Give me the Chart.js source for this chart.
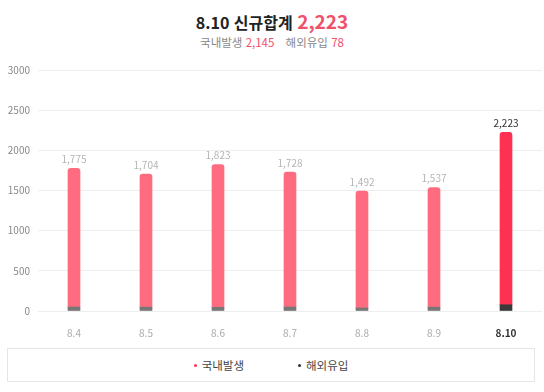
<!DOCTYPE html>
<html lang="ko">
<head>
<meta charset="utf-8">
<script src="https://cdn.jsdelivr.net/npm/chart.js@4"></script>
<style>
    body { margin: 0; width: 544px; height: 392px; background: #fff; font-family: "Noto Sans CJK KR", "Noto Sans", sans-serif; position: relative; overflow: hidden; }
    .title { position: absolute; top: 7px; left: 0; width: 544px; text-align: center; font-weight: bold; font-size: 16px; color: #222; }
    .title .total { color: #f0506a; font-size: 19px; }
    .sub { position: absolute; top: 34px; left: 0; width: 544px; text-align: center; font-size: 11.5px; color: #888; }
    .sub .num { color: #f0506a; margin-right: 8px; }
    .chart-wrap { position: absolute; left: 0; top: 56px; width: 544px; height: 284px; }
    .legend { position: absolute; left: 7px; top: 348px; width: 526px; height: 32px; border: 1px solid #e6e6e6; display: flex; justify-content: center; align-items: center; font-size: 11.5px; color: #444; }
    .legend span.item { margin: 0 27px; display: flex; align-items: center; }
    .legend i { display: inline-block; width: 3px; height: 3px; border-radius: 50%; margin-right: 5px; }
</style>
</head>
<body>
<div class="title">8.10 신규합계 <span class="total">2,223</span></div>
<div class="sub">국내발생 <span class="num">2,145</span> 해외유입 <span class="num" style="margin-right:0">78</span></div>
<div class="chart-wrap"><canvas id="chart"></canvas></div>
<div class="legend" id="legend"></div>
<script>
const labels = ['8.4', '8.5', '8.6', '8.7', '8.8', '8.9', '8.10'];
const totals = [1775, 1704, 1823, 1728, 1492, 1537, 2223];
const imported = [50, 48, 47, 50, 38, 48, 78];
const domestic = totals.map((t, i) => t - imported[i]);
const yTicks = [0, 500, 1000, 1500, 2000, 2500, 3000];

const last = labels.length - 1;
const domColors = labels.map((l, i) => i === last ? '#ff3152' : '#ff6c80');
const impColors = labels.map((l, i) => i === last ? '#3a3a3a' : '#777777');

const totalLabels = {
    id: 'totalLabels',
    afterDatasetsDraw(chart) {
        const ctx = chart.ctx;
        const meta = chart.getDatasetMeta(1);
        ctx.save();
        ctx.font = '10px "Noto Sans CJK KR", sans-serif';
        ctx.textAlign = 'center';
        ctx.textBaseline = 'bottom';
        meta.data.forEach((bar, i) => {
            ctx.fillStyle = i === last ? '#333' : '#b5b5b5';
            ctx.fillText(totals[i].toLocaleString('en-US'), bar.x, bar.y - 4);
        });
        ctx.restore();
    }
};

const chart = new Chart(document.getElementById('chart'), {
    type: 'bar',
    data: {
        labels: labels,
        datasets: [
            {
                label: '해외유입',
                data: imported,
                backgroundColor: impColors,
                barThickness: 12,
                borderRadius: 0
            },
            {
                label: '국내발생',
                data: domestic,
                backgroundColor: domColors,
                barThickness: 12,
                borderRadius: { topLeft: 3, topRight: 3, bottomLeft: 0, bottomRight: 0 },
                borderSkipped: false
            }
        ]
    },
    options: {
        responsive: true,
        maintainAspectRatio: false,
        animation: false,
        layout: { padding: { top: 6, right: 2 } },
        plugins: {
            legend: { display: false },
            tooltip: { enabled: false }
        },
        scales: {
            x: {
                stacked: true,
                grid: { display: false },
                border: { display: false },
                afterFit: (s) => { s.height = 29; },
                ticks: {
                    padding: 8,
                    color: (c) => c.index === last ? '#333' : '#aaa',
                    font: (c) => ({ size: 10, family: '"Noto Sans CJK KR", sans-serif', weight: c.index === last ? 'bold' : 'normal' })
                }
            },
            y: {
                stacked: true,
                min: 0,
                max: 3000,
                afterFit: (s) => { s.width = 38; },
                afterBuildTicks: (s) => { s.ticks = yTicks.map(v => ({ value: v })); },
                grid: { color: '#eeeeee', drawTicks: false },
                border: { display: false },
                ticks: {
                    padding: 8,
                    color: '#888',
                    font: { size: 10, family: '"Noto Sans CJK KR", sans-serif' },
                    callback: (v) => v
                }
            }
        }
    },
    plugins: [totalLabels]
});

// legend box
const legendEl = document.getElementById('legend');
[[1, '#ff3152'], [0, '#333']].forEach(([di, color]) => {
    const item = document.createElement('span');
    item.className = 'item';
    item.innerHTML = '<i style="background:' + color + '"></i>' + chart.data.datasets[di].label;
    legendEl.appendChild(item);
});
</script>
</body>
</html>
